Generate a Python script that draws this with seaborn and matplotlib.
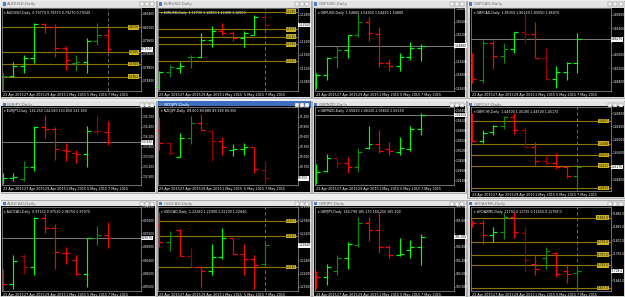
import numpy as np
import matplotlib
matplotlib.use("Agg")
import matplotlib.pyplot as plt
import seaborn as sns
from matplotlib.patches import Rectangle
from matplotlib.ticker import MaxNLocator, FuncFormatter

sns.set_theme(style="dark")
plt.rcParams["font.family"] = ["Liberation Sans Narrow", "DejaVu Sans"]

# ---------------- data ----------------
DAYS = ["23 Apr 2015", "24 Apr 2015", "27 Apr 2015", "28 Apr 2015", "29 Apr 2015",
        "30 Apr 2015", "1 May 2015", "4 May 2015", "5 May 2015", "6 May 2015", "7 May 2015"]
DATE_TICKS = ["23 Apr 2015", "27 Apr 2015", "29 Apr 2015", "1 May 2015", "5 May 2015", "7 May 2015"]

SYMBOLS = ["AUDUSD", "EURUSD", "GBPUSD", "GBPCAD",
           "EURJPY", "NZDJPY", "GBPNZD", "GBPCHF",
           "AUDCAD", "USDCAD", "GBPJPY", "#FDAXM5"]
POINT = [0.0001, 0.0001, 0.0001, 0.0001, 0.01, 0.01, 0.0001, 0.0001, 0.0001, 0.0001, 0.01, 1.0]
DIGITS = [5, 5, 5, 5, 3, 3, 5, 5, 5, 5, 3, 1]

# prices in points
AUDUSD_O = [7842, 7854, 7885, 7907, 8009, 8000, 7937, 7894, 7895, 7959, 7977]
AUDUSD_H = [7864, 7897, 7917, 8012, 8012, 8010, 7944, 7917, 7967, 8014, 7997]
AUDUSD_L = [7812, 7850, 7864, 7892, 7982, 7910, 7872, 7870, 7862, 7947, 7927]
AUDUSD_C = [7854, 7884, 7907, 8010, 8000, 7937, 7902, 7896, 7959, 7977, 7934]

EURUSD_O = [11065, 11109, 11120, 11153, 11153, 11205, 11232, 11225, 11211, 11221, 11273]
EURUSD_H = [11113, 11130, 11140, 11160, 11225, 11247, 11255, 11233, 11233, 11280, 11285]
EURUSD_L = [11055, 11095, 11105, 11120, 11150, 11185, 11220, 11203, 11183, 11220, 11240]
EURUSD_C = [11110, 11123, 11128, 11155, 11205, 11233, 11225, 11212, 11227, 11273, 11250]

GBPUSD_O = [15375, 15399, 15453, 15475, 15519, 15560, 15523, 15435, 15427, 15453, 15480]
GBPUSD_H = [15405, 15453, 15487, 15520, 15587, 15575, 15545, 15447, 15467, 15500, 15492]
GBPUSD_L = [15357, 15385, 15420, 15450, 15513, 15503, 15425, 15413, 15413, 15445, 15443]
GBPUSD_C = [15399, 15452, 15475, 15519, 15560, 15525, 15435, 15427, 15453, 15480, 15488]

GBPCAD_O = [18535, 18485, 18595, 18557, 18577, 18629, 18622, 18552, 18487, 18509, 18535]
GBPCAD_H = [18565, 18605, 18603, 18597, 18630, 18685, 18660, 18580, 18527, 18540, 18625]
GBPCAD_L = [18477, 18477, 18517, 18537, 18567, 18595, 18550, 18485, 18460, 18485, 18505]
GBPCAD_C = [18489, 18595, 18557, 18577, 18629, 18622, 18552, 18487, 18509, 18535, 18607]

EURJPY_O = [13280, 13285, 13284, 13320, 13438, 13432, 13370, 13362, 13358, 13428, 13425]
EURJPY_H = [13300, 13302, 13338, 13442, 13475, 13440, 13392, 13370, 13442, 13475, 13458]
EURJPY_L = [13267, 13278, 13278, 13308, 13405, 13340, 13338, 13332, 13320, 13415, 13385]
EURJPY_C = [13285, 13288, 13318, 13440, 13432, 13372, 13368, 13358, 13428, 13426, 13393]

NZDJPY_O = [9080, 9042, 8999, 9055, 9100, 9078, 9047, 9021, 9022, 9028, 8960]
NZDJPY_H = [9120, 9045, 9072, 9122, 9128, 9080, 9058, 9038, 9042, 9030, 8988]
NZDJPY_L = [9020, 9005, 8998, 9038, 9080, 8988, 9005, 9002, 9005, 8950, 8918]
NZDJPY_C = [9042, 9010, 9055, 9100, 9080, 9047, 9028, 9023, 9028, 8962, 8935]

GBPNZD_O = [20430, 20456, 20495, 20482, 20470, 20525, 20538, 20524, 20515, 20522, 20582]
GBPNZD_H = [20478, 20508, 20500, 20498, 20525, 20592, 20580, 20545, 20560, 20592, 20632]
GBPNZD_L = [20417, 20455, 20465, 20452, 20455, 20522, 20512, 20505, 20505, 20518, 20565]
GBPNZD_C = [20453, 20495, 20482, 20468, 20515, 20538, 20517, 20517, 20525, 20582, 20625]

GBPCHF_O = [14650, 14595, 14623, 14642, 14668, 14628, 14578, 14535, 14530, 14517, 14490]
GBPCHF_H = [14682, 14628, 14645, 14672, 14682, 14638, 14592, 14552, 14560, 14520, 14518]
GBPCHF_L = [14592, 14590, 14615, 14632, 14618, 14578, 14522, 14525, 14512, 14482, 14450]
GBPCHF_C = [14595, 14620, 14642, 14668, 14628, 14578, 14535, 14530, 14517, 14490, 14517]

AUDCAD_O = [9595, 9569, 9652, 9620, 9765, 9737, 9663, 9640, 9599, 9705, 9715]
AUDCAD_H = [9615, 9657, 9660, 9770, 9780, 9747, 9680, 9657, 9707, 9743, 9753]
AUDCAD_L = [9549, 9555, 9600, 9597, 9720, 9615, 9630, 9595, 9560, 9685, 9675]
AUDCAD_C = [9570, 9639, 9620, 9767, 9737, 9665, 9662, 9600, 9705, 9715, 9707]

USDCAD_O = [12345, 12295, 12330, 12253, 12220, 12208, 12249, 12305, 12260, 12243, 12228]
USDCAD_H = [12385, 12327, 12332, 12277, 12222, 12287, 12337, 12307, 12287, 12255, 12290]
USDCAD_L = [12280, 12267, 12253, 12220, 12160, 12195, 12243, 12260, 12197, 12155, 12220]
USDCAD_C = [12295, 12313, 12253, 12220, 12208, 12249, 12307, 12260, 12245, 12227, 12284]

GBPJPY_O = [18400, 18389, 18407, 18447, 18485, 18550, 18530, 18478, 18457, 18470, 18479]
GBPJPY_H = [18407, 18430, 18455, 18493, 18570, 18570, 18583, 18485, 18507, 18500, 18517]
GBPJPY_L = [18355, 18365, 18397, 18415, 18480, 18497, 18463, 18447, 18453, 18447, 18425]
GBPJPY_C = [18389, 18419, 18447, 18487, 18550, 18530, 18478, 18457, 18459, 18479, 18510]

FDAX_O = [11855, 11850, 11815, 11823, 11868, 11820, 11730, 11747, 11763, 11707, 11702]
FDAX_H = [11860, 11860, 11840, 11883, 11883, 11840, 11760, 11780, 11765, 11730, 11725]
FDAX_L = [11840, 11787, 11795, 11803, 11807, 11705, 11697, 11715, 11690, 11673, 11650]
FDAX_C = [11850, 11815, 11823, 11868, 11825, 11740, 11715, 11769, 11700, 11700, 11708]

# bar shade: B = bright, D = dark
SHADES = ["DBBBBBBDBDB", "BDBDBBBBBBD", "BBDBDBBBBBB", "BDBDBDBDBBB",
          "BBDBBBBBBDB", "BDBDBDBBBBD", "BBDBDBBBBBB", "BBBDBDBDBBD",
          "BBDBBBBBBDB", "BDBDBBBBBBD", "BBDBDBBBBBB", "BBBDBDBDBBD"]

# horizontal (support/resistance) levels, in points
AUDUSD_LEVELS = [8000, 7925, 7890, 7852]
EURUSD_LEVELS = [11290, 11237, 11215, 11192, 11142]
GBPCHF_LEVELS = [14657, 14588, 14553, 14521, 14453]
USDCAD_LEVELS = [12357, 12312, 12220]
FDAX_LEVELS = [11867, 11793, 11757, 11725, 11657]

# visible price range of every chart, in points
Y_RANGE = [(7809, 8057), (11052, 11300), (15352, 15600), (18452, 18700),
           (13265, 13500), (8915, 9150), (20415, 20650), (14444, 14700),
           (9547, 9800), (12147, 12400), (18347, 18600), (11647, 11900)]

OHLC = [(AUDUSD_O, AUDUSD_H, AUDUSD_L, AUDUSD_C), (EURUSD_O, EURUSD_H, EURUSD_L, EURUSD_C),
        (GBPUSD_O, GBPUSD_H, GBPUSD_L, GBPUSD_C), (GBPCAD_O, GBPCAD_H, GBPCAD_L, GBPCAD_C),
        (EURJPY_O, EURJPY_H, EURJPY_L, EURJPY_C), (NZDJPY_O, NZDJPY_H, NZDJPY_L, NZDJPY_C),
        (GBPNZD_O, GBPNZD_H, GBPNZD_L, GBPNZD_C), (GBPCHF_O, GBPCHF_H, GBPCHF_L, GBPCHF_C),
        (AUDCAD_O, AUDCAD_H, AUDCAD_L, AUDCAD_C), (USDCAD_O, USDCAD_H, USDCAD_L, USDCAD_C),
        (GBPJPY_O, GBPJPY_H, GBPJPY_L, GBPJPY_C), (FDAX_O, FDAX_H, FDAX_L, FDAX_C)]
LEVELS = {0: AUDUSD_LEVELS, 1: EURUSD_LEVELS, 7: GBPCHF_LEVELS, 9: USDCAD_LEVELS, 11: FDAX_LEVELS}
BID_LINE = {2, 3, 4, 6, 8}
ACTIVE = 5

# ---------------- layout / style ----------------
W, H = 625, 297
fig = plt.figure(figsize=(W / 100, H / 100), dpi=100)
fig.patch.set_facecolor("#eeeeee")

def fx(x):
    return x / W

def fy(y):
    return 1 - y / H

def rect(x0, y0, x1, y1, **kw):
    fig.patches.append(Rectangle((fx(x0), fy(y1)), fx(x1) - fx(x0), fy(y0) - fy(y1),
                                 transform=fig.transFigure, figure=fig, **kw))

COL_WIN = [(0, 156.5), (156.5, 311.5), (311.5, 466.5), (466.5, 625)]
COL_CHART = [(1.7, 140.5), (158.3, 297.7), (315.0, 454.0), (471.0, 610.5)]
ROW_WIN = [(0, 98.5), (100.5, 193), (199.5, 297)]
ROW_CHART = [(8.3, 91.0), (106.7, 185.0), (206.7, 291.3)]

BRIGHT_UP, DARK_UP = "#00ff00", "#0c8a0c"
BRIGHT_DN, DARK_DN = "#ff0000", "#9a0000"
GOLD = "#8c7600"
XL = (-0.1, 13.15)

for k, sym in enumerate(SYMBOLS):
    r, c = divmod(k, 4)
    wx0, wx1 = COL_WIN[c]
    wy0, wy1 = ROW_WIN[r]
    cx0, cx1 = COL_CHART[c]
    cy0, cy1 = ROW_CHART[r]
    if r == 1 and c == 3:
        wy1, cy1 = 198.5, 191.0

    # window frame
    rect(wx0 + 0.5, wy0 + 0.5, wx1 - 0.5, wy1 - 0.5, facecolor="#d6d6d6",
         edgecolor="#9a9a9a", lw=0.5, zorder=0)
    # title bar
    tb_col = "#3c6ec0" if k == ACTIVE else "#e4e4e4"
    rect(wx0 + 1, wy0 + 1, wx1 - 1, wy0 + 7.3, facecolor=tb_col, edgecolor="none", zorder=1)
    rect(wx0 + 2.5, wy0 + 2.3, wx0 + 5.5, wy0 + 5.8, facecolor="#4a7cc8", edgecolor="none", zorder=2)
    fig.text(fx(wx0 + 7), fy(wy0 + 4.2), f"{sym},Daily", fontsize=3.0,
             color="white" if k == ACTIVE else "#707070", va="center", ha="left")
    for b in range(3):
        bx = wx1 - 4.5 - (2 - b) * 5.2
        rect(bx - 2, wy0 + 2, bx + 2, wy0 + 6.3, facecolor="#f4f4f4",
             edgecolor="#7a7a7a", lw=0.3, zorder=2)
    # black client area
    rect(cx0 - 0.8, cy0 - 0.3, wx1 - 1.3, wy1 - 1.2, facecolor="black", edgecolor="none", zorder=1)

    o, h, l, cl = [np.asarray(a, float) * POINT[k] for a in OHLC[k]]
    n = len(o)
    x = np.arange(n)
    up = cl >= o
    shade = np.array(list(SHADES[k])) == "B"
    colors = np.where(up, np.where(shade, BRIGHT_UP, DARK_UP), np.where(shade, BRIGHT_DN, DARK_DN))

    ax = fig.add_axes([fx(cx0), fy(cy1), fx(cx1) - fx(cx0), fy(cy0) - fy(cy1)])
    ax.set_facecolor("black")
    ax.set_zorder(3)
    ax.grid(False)
    lo, hi = Y_RANGE[k]
    ax.set_ylim(lo * POINT[k], hi * POINT[k])
    ax.set_xlim(*XL)

    if k in LEVELS:
        for lv in LEVELS[k]:
            v = lv * POINT[k]
            ax.axhline(v, color=GOLD, lw=0.8, zorder=1)
            ax.text(XL[1] - 0.15, v, f"{v:.{max(DIGITS[k] - 1, 1)}f}", fontsize=2.1,
                    color="#1a1a00", ha="right", va="center", zorder=4,
                    bbox=dict(boxstyle="square,pad=0.12", fc="#c8b020", ec="none"))
        ax.axvline(x[-1], color="#7a7a7a", lw=0.6, ls=(0, (4, 3)), zorder=1)
    if k in BID_LINE:
        ax.axhline(cl[-1], color="#7c7c7c", lw=0.7, zorder=1)

    ax.vlines(x, l, h, colors=colors, lw=0.85, zorder=3)
    ax.hlines(o, x - 0.38, x, colors=colors, lw=0.85, zorder=3)
    ax.hlines(cl, x, x + 0.38, colors=colors, lw=0.85, zorder=3)

    # axes styling
    for s in ax.spines.values():
        s.set_color("#9a9a9a")
        s.set_linewidth(0.5)
    ax.yaxis.tick_right()
    ax.yaxis.set_major_locator(MaxNLocator(8))
    d = DIGITS[k]
    span = (hi - lo) * POINT[k]
    last = cl[-1]
    ax.yaxis.set_major_formatter(FuncFormatter(
        lambda v, p, d=d, last=last, span=span: "" if abs(v - last) < span * 0.05 else f"{v:.{d}f}"))
    ax.tick_params(axis="y", colors="white", labelsize=2.1, length=1.0, width=0.4, pad=0.5)
    ax.set_xticks([DAYS.index(t) for t in DATE_TICKS])
    ax.set_xticklabels(DATE_TICKS, ha="left")
    ax.tick_params(axis="x", colors="white", labelsize=2.4, length=2.2, width=0.4, pad=0.3,
                   direction="inout")
    # current price label
    ax.text(1.004, last, f"{last:.{d}f}", transform=ax.get_yaxis_transform(),
            fontsize=2.1, color="black", ha="left", va="center", zorder=5, clip_on=False,
            bbox=dict(boxstyle="square,pad=0.1", fc="white", ec="none"))
    # info line
    ax.text(0.02, 0.965, f"\u25be {sym},Daily  {o[-1]:.{d}f} {h[-1]:.{d}f} {l[-1]:.{d}f} {last:.{d}f}",
            transform=ax.transAxes, fontsize=2.3, color="white", ha="left", va="top", zorder=5)

fig.savefig("out.png", dpi=100, facecolor=fig.get_facecolor())
